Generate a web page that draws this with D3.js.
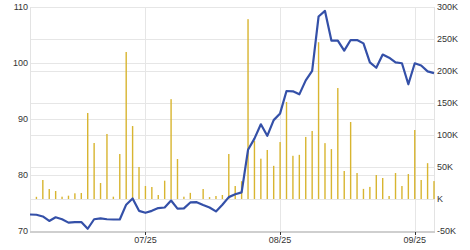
<!DOCTYPE html>
<html>
<head>
<meta charset="utf-8">
<script src="https://cdn.jsdelivr.net/npm/d3@7"></script>
<style>
body { margin: 0; background: #fff; }
text { font-family: Arial, "Liberation Sans", sans-serif; font-size: 9px; fill: #333; }
</style>
</head>
<body>
<script>
// price (left axis) and volume (right axis), one value per trading day
var price = [72.95, 72.9, 72.6, 71.8, 72.45, 72.1, 71.5, 71.6, 71.6, 70.4,
  72.1, 72.25, 72.1, 72.05, 72.05, 74.7, 75.8, 73.6, 73.25, 73.6,
  74.1, 74.2, 75.45, 74.0, 74.05, 75.1, 75.15, 74.65, 74.2, 73.5,
  74.7, 76.05, 76.55, 76.9, 84.5, 86.5, 89.05, 87.0, 89.8, 91.0,
  95.0, 94.95, 94.4, 96.9, 98.6, 108.3, 109.3, 104.0, 104.0, 102.2,
  104.1, 104.1, 103.5, 100.1, 99.15, 101.5, 100.95, 100.1, 99.95, 96.2,
  99.95, 99.55, 98.5, 98.2];

var volume = [0, 3400, 29700, 15600, 12500, 3600, 5200, 8900, 9400, 134400,
  87500, 25000, 101600, 3600, 70300, 229700, 114000, 50000, 20300, 18750,
  6250, 28600, 156000, 62500, 3600, 9600, 0, 15600, 3000, 4700,
  6250, 70300, 20300, 27800, 281000, 90800, 63000, 76600, 51800, 89000,
  151600, 67500, 69000, 97000, 106300, 245000, 87300, 78000, 173400, 43750,
  120300, 40600, 15800, 18900, 37500, 32800, 4700, 40600, 20300, 39000,
  107800, 29700, 56000, 28000];

var tickIndex = [18, 39, 60];
var tickLabels = ["07/25", "08/25", "09/25"];

var leftTicks = [70, 80, 90, 100, 110];
var rightTicks = [-50000, 0, 50000, 100000, 150000, 200000, 250000, 300000];

var width = 470, height = 250;
var plotLeft = 30, plotRight = 434, plotTop = 7, plotBottom = 231;

var svg = d3.select("body").append("svg")
  .attr("width", width)
  .attr("height", height);

var x = d3.scaleLinear().domain([0, price.length - 1]).range([plotLeft, plotRight]);
var yL = d3.scaleLinear().domain([70, 110]).range([plotBottom, plotTop]);
var yR = d3.scaleLinear().domain([-50000, 300000]).range([plotBottom, plotTop]);

// grid lines from both axes
svg.append("g").selectAll("line")
  .data(leftTicks)
  .enter().append("line")
  .attr("x1", plotLeft).attr("x2", plotRight)
  .attr("y1", function(d) { return Math.round(yL(d)) + 0.5; })
  .attr("y2", function(d) { return Math.round(yL(d)) + 0.5; })
  .style("stroke", "#e6e6e6");

svg.append("g").selectAll("line")
  .data(rightTicks)
  .enter().append("line")
  .attr("x1", plotLeft).attr("x2", plotRight)
  .attr("y1", function(d) { return Math.round(yR(d)) + 0.5; })
  .attr("y2", function(d) { return Math.round(yR(d)) + 0.5; })
  .style("stroke", "#e6e6e6");

svg.append("g").selectAll("line")
  .data(tickIndex)
  .enter().append("line")
  .attr("x1", function(d) { return Math.round(x(d)) + 0.5; })
  .attr("x2", function(d) { return Math.round(x(d)) + 0.5; })
  .attr("y1", plotTop).attr("y2", plotBottom)
  .style("stroke", "#e6e6e6");

// side frame lines
svg.append("line")
  .attr("x1", plotLeft + 0.5).attr("x2", plotLeft + 0.5)
  .attr("y1", plotTop).attr("y2", plotBottom)
  .style("stroke", "#e3e3e3");
svg.append("line")
  .attr("x1", plotRight + 0.5).attr("x2", plotRight + 0.5)
  .attr("y1", plotTop).attr("y2", plotBottom)
  .style("stroke", "#e3e3e3");

// volume bars
svg.append("g").selectAll("rect")
  .data(volume)
  .enter().append("rect")
  .attr("x", function(d, i) { return x(i) - 0.7; })
  .attr("width", 1.4)
  .attr("y", function(d) { return yR(d); })
  .attr("height", function(d) { return yR(0) - yR(d); })
  .style("fill", "#d8b530");

// price line
var line = d3.line()
  .x(function(d, i) { return x(i); })
  .y(function(d) { return yL(d); });

svg.append("path")
  .datum(price)
  .attr("d", line)
  .style("fill", "none")
  .style("stroke", "#3450a8")
  .style("stroke-width", 2.2)
  .style("stroke-linejoin", "round");

// bottom axis
svg.append("line")
  .attr("x1", plotLeft).attr("x2", plotRight + 1)
  .attr("y1", plotBottom + 1).attr("y2", plotBottom + 1)
  .style("stroke", "#cfcfcf")
  .style("stroke-width", 2);

svg.append("g").selectAll("line")
  .data(tickIndex)
  .enter().append("line")
  .attr("x1", function(d) { return Math.round(x(d)) + 0.5; })
  .attr("x2", function(d) { return Math.round(x(d)) + 0.5; })
  .attr("y1", plotBottom + 1).attr("y2", plotBottom + 4)
  .style("stroke", "#333");

svg.append("g").selectAll("text")
  .data(tickIndex)
  .enter().append("text")
  .attr("x", function(d) { return x(d); })
  .attr("y", 243)
  .attr("text-anchor", "middle")
  .text(function(d, i) { return tickLabels[i]; });

// left axis labels
svg.append("g").selectAll("text")
  .data(leftTicks)
  .enter().append("text")
  .attr("x", 28)
  .attr("y", function(d) { return yL(d); })
  .attr("dy", "0.35em")
  .attr("text-anchor", "end")
  .text(function(d) { return d; });

// right axis labels
svg.append("g").selectAll("text")
  .data(rightTicks)
  .enter().append("text")
  .attr("x", 437)
  .attr("y", function(d) { return yR(d); })
  .attr("dy", "0.35em")
  .text(function(d) { return d === 0 ? "K" : (d / 1000) + "K"; });
</script>
</body>
</html>
